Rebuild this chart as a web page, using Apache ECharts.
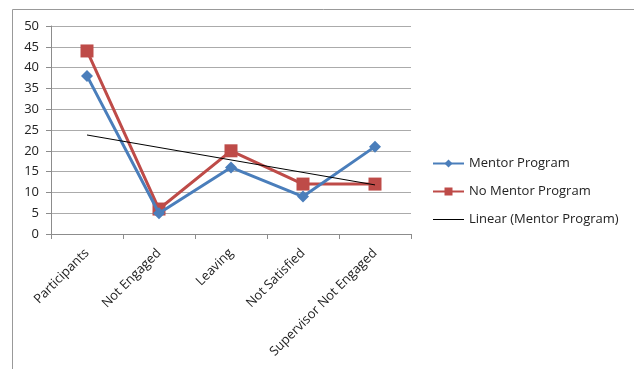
<!DOCTYPE html>
<html>
<head>
<meta charset="utf-8">
<script src="https://cdn.jsdelivr.net/npm/echarts@6/dist/echarts.min.js"></script>
<style>
  html, body { margin: 0; padding: 0; background: #fff; }
  #chart { width: 634px; height: 369px; }
</style>
</head>
<body>
<div id="chart"></div>
<script>
// categories and values
var categories = ['Participants', 'Not Engaged', 'Leaving', 'Not Satisfied', 'Supervisor Not Engaged'];
var mentor = [38, 5, 16, 9, 21];
var noMentor = [44, 6, 20, 12, 12];
// linear trend of Mentor Program, as drawn
var mentorTrend = [23.8, 20.8, 17.8, 14.8, 11.8];

var FONT = 'Open Sans';
var grey = '#8c8c8c';

var chart = echarts.init(document.getElementById('chart'));

var option = {
    animation: false,
    backgroundColor: '#fff',
    textStyle: { fontFamily: FONT },
    graphic: [{
        type: 'rect',
        shape: { x: 12.5, y: 9.5, width: 700, height: 400 },
        style: { fill: 'none', stroke: '#999', lineWidth: 1 },
        silent: true
    }],
    grid: {
        left: 51,
        top: 26,
        right: 223,
        bottom: 135
    },
    legend: {
        orient: 'vertical',
        left: 432,
        top: 157,
        padding: 0,
        itemWidth: 31,
        itemHeight: 10,
        itemGap: 15,
        textStyle: { fontFamily: FONT, fontSize: 13, color: '#222' },
        data: [
            { name: 'Mentor Program' },
            { name: 'No Mentor Program' },
            { name: 'Linear (Mentor Program)', itemStyle: { opacity: 0 }, lineStyle: { width: 1 } }
        ]
    },
    xAxis: {
        type: 'category',
        data: categories,
        boundaryGap: true,
        axisLine: { lineStyle: { color: grey, width: 1 } },
        axisTick: { show: true, length: 5, lineStyle: { color: grey } },
        axisLabel: {
            rotate: 45,
            margin: 17,
            fontFamily: FONT,
            fontSize: 13,
            color: '#222',
            interval: 0
        }
    },
    yAxis: {
        type: 'value',
        min: 0,
        max: 50,
        interval: 5,
        axisLine: { show: true, lineStyle: { color: grey, width: 1 } },
        axisTick: { show: true, length: 5, lineStyle: { color: grey } },
        splitLine: { lineStyle: { color: '#ababab', width: 1 } },
        axisLabel: {
            margin: 12,
            fontFamily: FONT,
            fontSize: 13,
            color: '#222'
        }
    },
    series: [
        {
            name: 'Mentor Program',
            type: 'line',
            data: mentor,
            color: '#4a7ebb',
            symbol: 'diamond',
            symbolSize: 12,
            lineStyle: { width: 3 },
            z: 3
        },
        {
            name: 'No Mentor Program',
            type: 'line',
            data: noMentor,
            color: '#be4b48',
            symbol: 'rect',
            symbolSize: 13,
            lineStyle: { width: 3 },
            z: 2
        },
        {
            name: 'Linear (Mentor Program)',
            type: 'line',
            data: mentorTrend,
            color: '#000',
            symbol: 'none',
            lineStyle: { width: 1 },
            z: 4
        }
    ]
};

chart.setOption(option);
</script>
</body>
</html>
